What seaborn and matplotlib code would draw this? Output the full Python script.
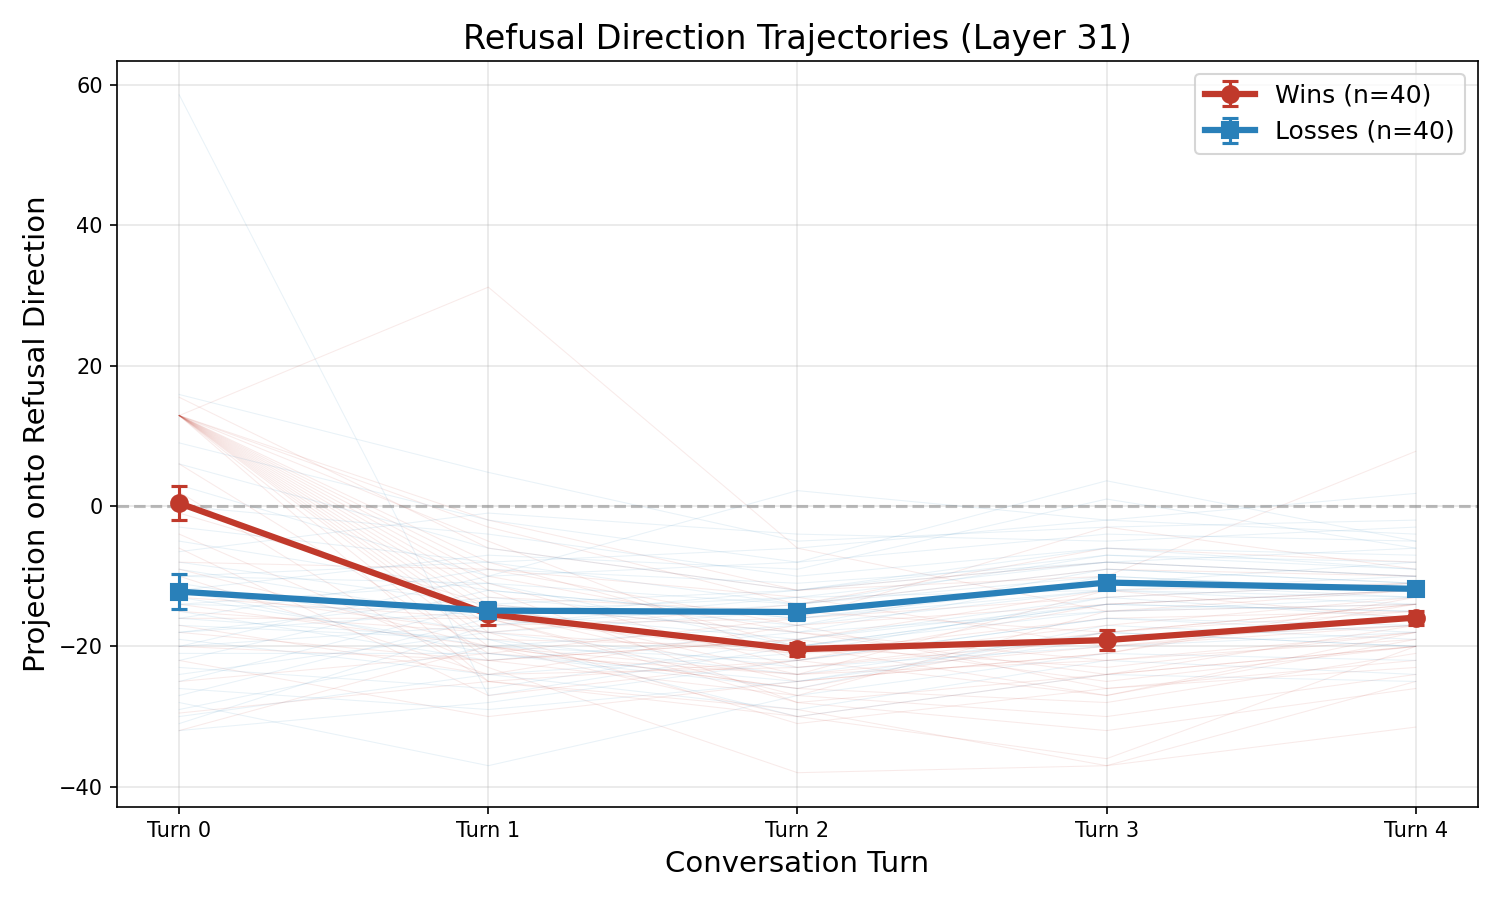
import numpy as np
import pandas as pd
import matplotlib
matplotlib.use("Agg")
import matplotlib.pyplot as plt
import seaborn as sns

turns = [0, 1, 2, 3, 4]
turn_labels = ["Turn 0", "Turn 1", "Turn 2", "Turn 3", "Turn 4"]

# Mean trajectories and standard errors
wins_mean = [0.4, -15.4, -20.4, -19.1, -15.9]
wins_sem = [2.4, 1.5, 0.9, 1.4, 1.0]
losses_mean = [-12.2, -14.9, -15.1, -10.9, -11.8]
losses_sem = [2.5, 1.2, 1.1, 0.8, 0.9]

# Individual conversation trajectories (faint background lines)
wins_individual = [
    [12.9, -2, -12, -8, -10],
    [12.9, 31.2, -6, -15, -14],
    [12.9, -10, -18, -22, -18],
    [12.9, -5, -22, -14, -12],
    [12.9, -14, -24, -20, -16],
    [12.9, -8, -20, -27, -19],
    [12.9, -20, -26, -18, -14],
    [12.9, -17, -16, -3, -9],
    [12.9, -12, -28, -24, -17],
    [12.9, -22, -19, -12, -11],
    [12.9, -3, -14, -6, -8],
    [12.9, -25, -30, -36, -20],
    [12.9, -15, -25, -21, -13],
    [12.9, -9, -17, -26, -22],
    [12.9, -18, -21, -16, -15],
    [15.5, -6, -12, -10, 7.8],
    [12.9, -11, -23, -19, -17],
    [12.9, -16, -27, -30, -24],
    [12.9, -19, -20, -23, -18],
    [12.9, -13, -15, -18, -14],
    [6, -21, -24, -12, -16],
    [2, -25, -29, -37, -25],
    [-1, -14, -18, -24, -20],
    [-4, -23, -38, -37, -31.5],
    [-6, -27, -22, -17, -13],
    [-8, -9, -13, -20, -17],
    [-9, -20, -26, -28, -21],
    [-10, -24, -17, -14, -12],
    [-12, -18, -31, -26, -23],
    [-13, -16, -21, -19, -16],
    [-14, -20, -24, -22, -19],
    [-15, -18, -14, -9, -10],
    [-16, -16, -28, -32, -26],
    [-17, -24, -23, -18, -15],
    [-18, -22, -19, -25, -20],
    [-20, -22, -27, -15, -12],
    [-22, -30, -25, -21, -14],
    [-25, -21, -16, -13, -11],
    [-29.5, -25, -22, -27, -18],
    [-32, -20, -30, -24, -20],
]

losses_individual = [
    [58.6, -27, -20, -14, -12],
    [15.9, 4.8, -5, -3, -2],
    [9, -2, -8, 3.6, -5],
    [6, -6, -12, -8, -10],
    [3, -10, 2.2, -2, -4],
    [0, -4, -10, -6, -7],
    [-3, -8, -14, -9, -11],
    [-5, -12, -16, -12, -13],
    [-6.5, -1, -4, -5, -3],
    [-8, -14, -18, -10, -12],
    [-9, -16, -12, -7, -9],
    [-10, -11, -20, -14, -15],
    [-11, -18, -15, -11, -13],
    [-12, -7, -9, 1, -6],
    [-13, -20, -22, -16, -17],
    [-14, -15, -13, -12, -10],
    [-15, -22, -18, -15, -14],
    [-16, -9, -11, -8, -6],
    [-17, -19, -24, -18, -20],
    [-18, -13, -17, -9, -11],
    [-19, -24, -21, -13, -16],
    [-20, -17, -14, -10, -12],
    [-21, -21, -26, -17, -19],
    [-22, -12, -16, -11, -8],
    [-23, -26, -19, -14, -15],
    [-24, -18, -23, -20, -18],
    [-25, -14, -12, -6, -9],
    [-26, -29, -25, -19, -17],
    [-27, -16, -20, -15, -13],
    [-28, -37, -27, -21, -22],
    [-29, -20, -17, -12, -14],
    [-30, -24, -29, -22, -24],
    [-31, -17, -13, -8, -10],
    [-32, -28, -22, -16, -18],
    [-20, -10, -8, -4, -5],
    [-18, -15, -19, -13, -11],
    [-16, -19, -30, -24, -25],
    [-14, -11, -14, -7, -8],
    [-12, -21, -25, -18, -20],
    [-10, -8, -6, -2, 1.8],
]

WIN_COLOR = "#c0392b"
LOSS_COLOR = "#2980b9"

# Long-form table for the background trajectories
rows = []
for group, data in (("win", wins_individual), ("loss", losses_individual)):
    for i, traj in enumerate(data):
        for t, v in zip(turns, traj):
            rows.append({"group": group, "unit": f"{group}{i}", "turn": t, "value": v})
df = pd.DataFrame(rows)

plt.rcParams["font.family"] = ["DejaVu Sans"]

fig, ax = plt.subplots(figsize=(10, 6), dpi=150)

sns.lineplot(data=df[df.group == "win"], x="turn", y="value", units="unit",
             estimator=None, color=WIN_COLOR, alpha=0.1, linewidth=0.5,
             ax=ax, legend=False)
sns.lineplot(data=df[df.group == "loss"], x="turn", y="value", units="unit",
             estimator=None, color=LOSS_COLOR, alpha=0.1, linewidth=0.5,
             ax=ax, legend=False)

ax.errorbar(turns, wins_mean, yerr=wins_sem, color=WIN_COLOR, marker="o",
            markersize=8, linewidth=3, capsize=4, capthick=1.5, elinewidth=1.5,
            label=f"Wins (n={len(wins_individual)})", zorder=5)
ax.errorbar(turns, losses_mean, yerr=losses_sem, color=LOSS_COLOR, marker="s",
            markersize=8, linewidth=3, capsize=4, capthick=1.5, elinewidth=1.5,
            label=f"Losses (n={len(losses_individual)})", zorder=5)

ax.axhline(0, color="gray", linestyle="--", alpha=0.5, linewidth=1.5)

ax.set_xticks(turns)
ax.set_xticklabels(turn_labels)
ax.set_xlabel("Conversation Turn", fontsize=14)
ax.set_ylabel("Projection onto Refusal Direction", fontsize=14)
ax.set_title("Refusal Direction Trajectories (Layer 31)", fontsize=16)
ax.grid(True, alpha=0.3)
ax.legend(loc="upper right", fontsize=12)

fig.tight_layout()
fig.savefig("out.png", dpi=150)
